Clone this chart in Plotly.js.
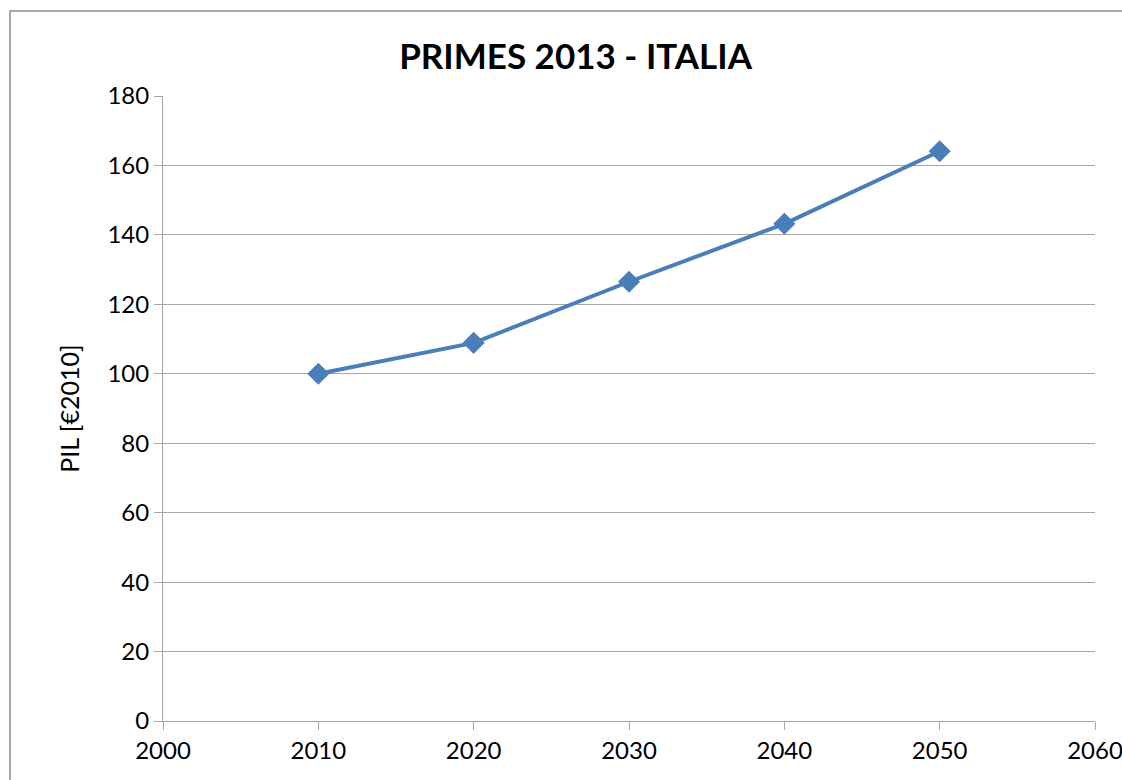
<!DOCTYPE html>
<html>
<head>
<meta charset="utf-8">
<script src="https://cdn.plot.ly/plotly-3.0.1.min.js"></script>
<style>html,body{margin:0;padding:0;background:#fff;}#chart{width:1122px;height:780px;}</style>
</head>
<body>
<div id="chart"></div>
<script>
const years = [2010, 2020, 2030, 2040, 2050];
const pil = [100, 108.9, 126.5, 143.2, 164.1];
const chartTitle = "PRIMES 2013 - ITALIA";
const yTitle = "PIL [€2010]";

const L = 163, R = 27, T = 96, B = 59;
const pw = 1122 - L - R, ph = 780 - T - B;

const trace = {
  x: years, y: pil, type: 'scatter', mode: 'lines+markers',
  line: {color: '#4a7ebb', width: 4},
  marker: {symbol: 'diamond', size: 17, color: '#4a7ebb'},
  hoverinfo: 'x+y'
};

const layout = {
  width: 1122, height: 780,
  margin: {l: L, r: R, t: T, b: B, pad: 0},
  paper_bgcolor: '#fff', plot_bgcolor: '#fff',
  font: {family: 'Lato, "Open Sans", sans-serif', color: '#000', size: 24},
  showlegend: false,
  title: {text: '<b>' + chartTitle + '</b>', x: 0.513, xanchor: 'center', y: 0.927, yanchor: 'middle',
          font: {family: 'Lato, sans-serif', size: 35, color: '#000'}},
  xaxis: {
    range: [2000, 2060], tickvals: [2000, 2010, 2020, 2030, 2040, 2050, 2060],
    showgrid: false, zeroline: false,
    showline: true, linecolor: '#a6a6a6', linewidth: 1,
    ticks: 'outside', ticklen: 8, tickcolor: '#a6a6a6', tickwidth: 1,
    tickfont: {size: 24, color: '#000'},
    ticklabeloverflow: 'allow'
  },
  yaxis: {
    range: [0, 180], tickvals: [0,20,40,60,80,100,120,140,160,180],
    showgrid: true, gridcolor: '#a6a6a6', gridwidth: 1, zeroline: false,
    showline: true, linecolor: '#a6a6a6', linewidth: 1,
    ticks: 'outside', ticklen: 8, tickcolor: '#a6a6a6', tickwidth: 1,
    tickfont: {size: 24, color: '#000'},
    title: {text: yTitle, font: {size: 25, color: '#000'}, standoff: 20}
  },
  shapes: [{
    type: 'rect', xref: 'paper', yref: 'paper', layer: 'below',
    x0: (10 - L) / pw, x1: (1130 - L) / pw,
    y0: -(790 - 780 + B) / ph, y1: 1 + (T - 11) / ph,
    line: {color: '#8c8c8c', width: 1.5}, fillcolor: 'rgba(0,0,0,0)'
  }]
};

Plotly.newPlot('chart', [trace], layout, {displayModeBar: false, staticPlot: true});
</script>
</body>
</html>
